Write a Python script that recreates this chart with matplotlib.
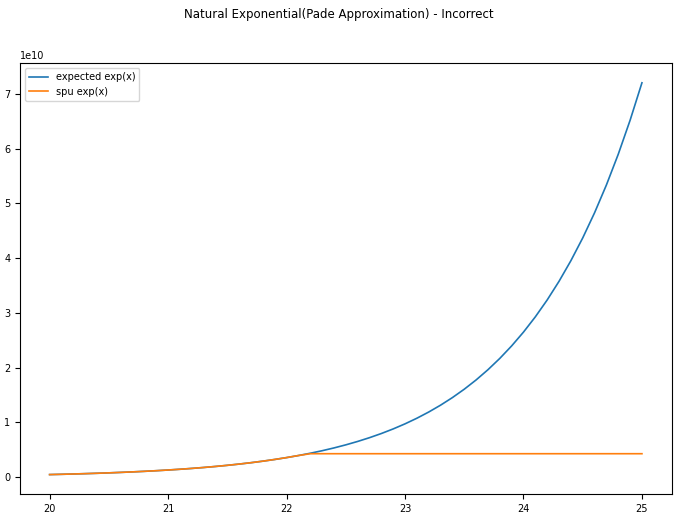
import matplotlib
matplotlib.use("Agg")
import matplotlib.pyplot as plt

x = [20.0 + 0.1 * i for i in range(51)]
expected = [0.04852, 0.05362, 0.05926, 0.06549, 0.07238, 0.07999, 0.08841, 0.09770, 0.10798, 0.11934,
            0.13188, 0.14575, 0.16108, 0.17802, 0.19675, 0.21744, 0.24031, 0.26559, 0.29352, 0.32439,
            0.35849, 0.39620, 0.43788, 0.48393, 0.53483, 0.59108, 0.65325, 0.72196, 0.79790, 0.88182,
            0.97455, 1.07705, 1.19033, 1.31553, 1.45389, 1.60681, 1.77580, 1.96257, 2.16899, 2.39712,
            2.64915, 2.92780, 3.23574, 3.57606, 3.95217, 4.36785, 4.82724, 5.33496, 5.89605, 6.51618,
            7.20049]
spu = expected[:22] + [0.4295] * 29
expected = [v * 1e10 for v in expected]
spu = [v * 1e10 for v in spu]

fig = plt.figure(figsize=(6.78, 5.18), dpi=100)
ax = fig.add_axes([0.0295, 0.046, 0.961, 0.832])
ax.plot(x, expected, color="#1f77b4", lw=1.2, label="expected exp(x)")
ax.plot(x, spu, color="#ff7f0e", lw=1.2, label="spu exp(x)")
ax.legend(loc="upper left", fontsize=7)
ax.tick_params(labelsize=7)
ax.yaxis.get_offset_text().set_fontsize(7)
fig.suptitle("Natural Exponential(Pade Approximation) - Incorrect", fontsize=8.5, y=0.985)
fig.savefig("out.png", dpi=100)
